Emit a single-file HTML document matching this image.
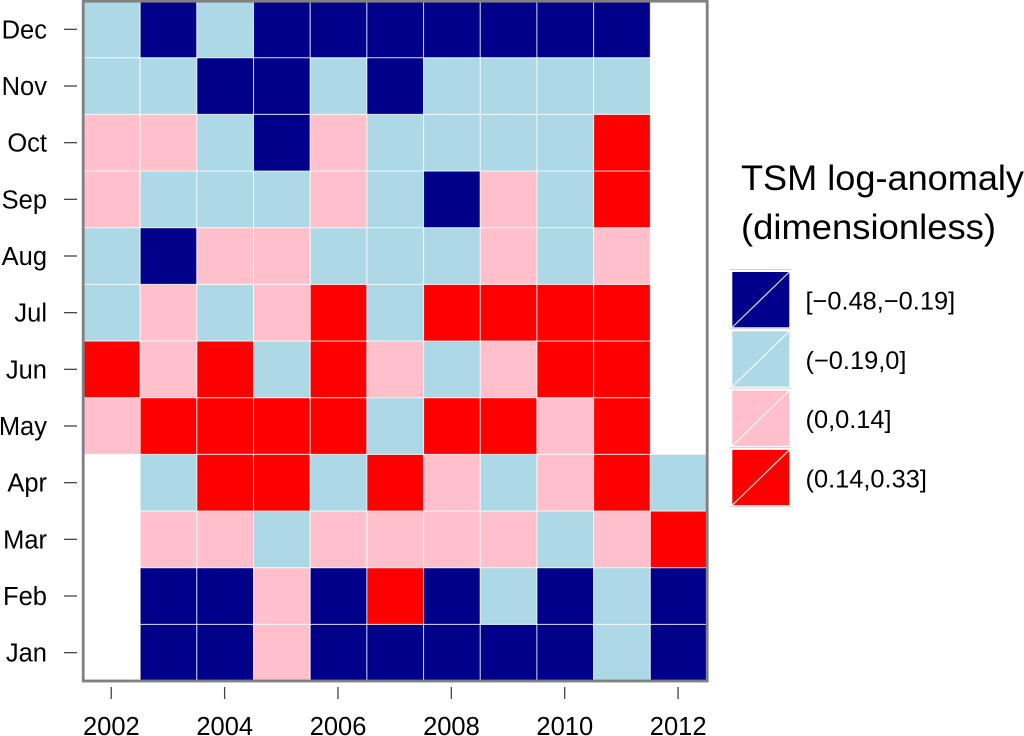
<!DOCTYPE html>
<html lang="en">
<head>
<meta charset="utf-8">
<title>TSM log-anomaly heatmap</title>
<style>
html,body{margin:0;padding:0;background:#fff;width:1024px;height:736px;overflow:hidden}
svg{display:block;font-family:"Liberation Sans",sans-serif}
</style>
</head>
<body>
<svg id="chart" xmlns="http://www.w3.org/2000/svg" width="1024" height="736" viewBox="0 0 1024 736">
  <g id="cells"></g>
  <rect x="83.2" y="1.2" width="624" height="679.8" fill="none" stroke="#808080" stroke-width="2.8"/>
  <g id="yaxis"></g>
  <g id="xaxis"></g>
  <text x="741" y="190" font-size="35" textLength="283" lengthAdjust="spacingAndGlyphs" fill="#000">TSM log-anomaly</text>
  <text x="741" y="239" font-size="35" textLength="255" lengthAdjust="spacingAndGlyphs" fill="#000">(dimensionless)</text>
  <g id="legend"></g>
</svg>
<script>
// Chart data: each value is the index of the anomaly class (null = no observation)
const years = [2002, 2003, 2004, 2005, 2006, 2007, 2008, 2009, 2010, 2011, 2012];
const months = ['Jan', 'Feb', 'Mar', 'Apr', 'May', 'Jun', 'Jul', 'Aug', 'Sep', 'Oct', 'Nov', 'Dec'];
const xTickYears = [2002, 2004, 2006, 2008, 2010, 2012];
const classLabels = ['[\u22120.48,\u22120.19]', '(\u22120.19,0]', '(0,0.14]', '(0.14,0.33]'];
const classColors = ['#00008b', '#add8e6', '#ffc0cb', '#ff0000'];
const _ = null;
const jan = [_, 0, 0, 2, 0, 0, 0, 0, 0, 1, 0];
const feb = [_, 0, 0, 2, 0, 3, 0, 1, 0, 1, 0];
const mar = [_, 2, 2, 1, 2, 2, 2, 2, 1, 2, 3];
const apr = [_, 1, 3, 3, 1, 3, 2, 1, 2, 3, 1];
const may = [2, 3, 3, 3, 3, 1, 3, 3, 2, 3, _];
const jun = [3, 2, 3, 1, 3, 2, 1, 2, 3, 3, _];
const jul = [1, 2, 1, 2, 3, 1, 3, 3, 3, 3, _];
const aug = [1, 0, 2, 2, 1, 1, 1, 2, 1, 2, _];
const sep = [2, 1, 1, 1, 2, 1, 0, 2, 1, 3, _];
const oct = [2, 2, 1, 0, 2, 1, 1, 1, 1, 3, _];
const nov = [1, 1, 0, 0, 1, 0, 1, 1, 1, 1, _];
const dec = [1, 0, 1, 0, 0, 0, 0, 0, 0, 0, _];
const monthSeries = [jan, feb, mar, apr, may, jun, jul, aug, sep, oct, nov, dec];

const NS = 'http://www.w3.org/2000/svg';
const plot = { left: 83.5, right: 707, top: 1, bottom: 681 };
const colW = (plot.right - plot.left) / years.length;
const rowH = (plot.bottom - plot.top) / months.length;
const xScale = function (yearIndex) { return plot.left + yearIndex * colW; };
const yScale = function (monthIndex) { return plot.bottom - (monthIndex + 1) * rowH; };

function make(tag, attrs, parent) {
  const el = document.createElementNS(NS, tag);
  for (const k in attrs) el.setAttribute(k, attrs[k]);
  parent.appendChild(el);
  return el;
}

const cellsG = document.getElementById('cells');
monthSeries.forEach(function (series, m) {
  series.forEach(function (v, y) {
    if (v === null) return;
    const r = make('rect', {
      x: xScale(y), y: yScale(m), width: colW, height: rowH,
      fill: classColors[v], stroke: 'rgba(255,255,255,0.72)', 'stroke-width': 1
    }, cellsG);
    
    
  });
});

const yG = document.getElementById('yaxis');
months.forEach(function (label, m) {
  const cy = yScale(m) + rowH / 2;
  const t = make('line', { x1: 64, x2: 77, y1: cy, y2: cy, stroke: '#444', 'stroke-width': 1.3 }, yG);
  
  
  const txt = make('text', { x: 47, y: cy + 9, 'text-anchor': 'end', 'font-size': 25.5, fill: '#000' }, yG);
  txt.textContent = label;
  
  
});

const xG = document.getElementById('xaxis');
xTickYears.forEach(function (year) {
  const cx = xScale(years.indexOf(year)) + colW / 2;
  const t = make('line', { x1: cx - 0.6, x2: cx - 0.6, y1: 687, y2: 699, stroke: '#444', 'stroke-width': 1.3 }, xG);
  
  
  const txt = make('text', { x: cx - 0.5, y: 735, 'text-anchor': 'middle', 'font-size': 25.5, fill: '#000' }, xG);
  txt.textContent = String(year);
  
  
});

const legendG = document.getElementById('legend');
const legendTop = 269.5;
const legendStep = 59.3;
const separator = make('line', { x1: 730, x2: 791, y1: legendTop, y2: legendTop, stroke: '#d0d0d0', 'stroke-width': 1 }, legendG);


classLabels.forEach(function (label, i) {
  const top = legendTop + i * legendStep;
  const box = make('rect', { x: 732.3, y: top + 2.5, width: 57, height: legendStep - 4, fill: classColors[i] }, legendG);
  
  
  const diag = make('line', { x1: 732.3, y1: top + legendStep - 1.5, x2: 789.3, y2: top + 2.5, stroke: '#fff', 'stroke-opacity': 0.85, 'stroke-width': 1.2 }, legendG);
  
  
  const rule = make('line', { x1: 730, x2: 791, y1: top + legendStep, y2: top + legendStep, stroke: '#d0d0d0', 'stroke-width': 1 }, legendG);
  
  
  const txt = make('text', { x: 805.5, y: top + 40, 'font-size': 25.4, fill: '#000' }, legendG);
  txt.textContent = label;
  
  
});
</script>
</body>
</html>
